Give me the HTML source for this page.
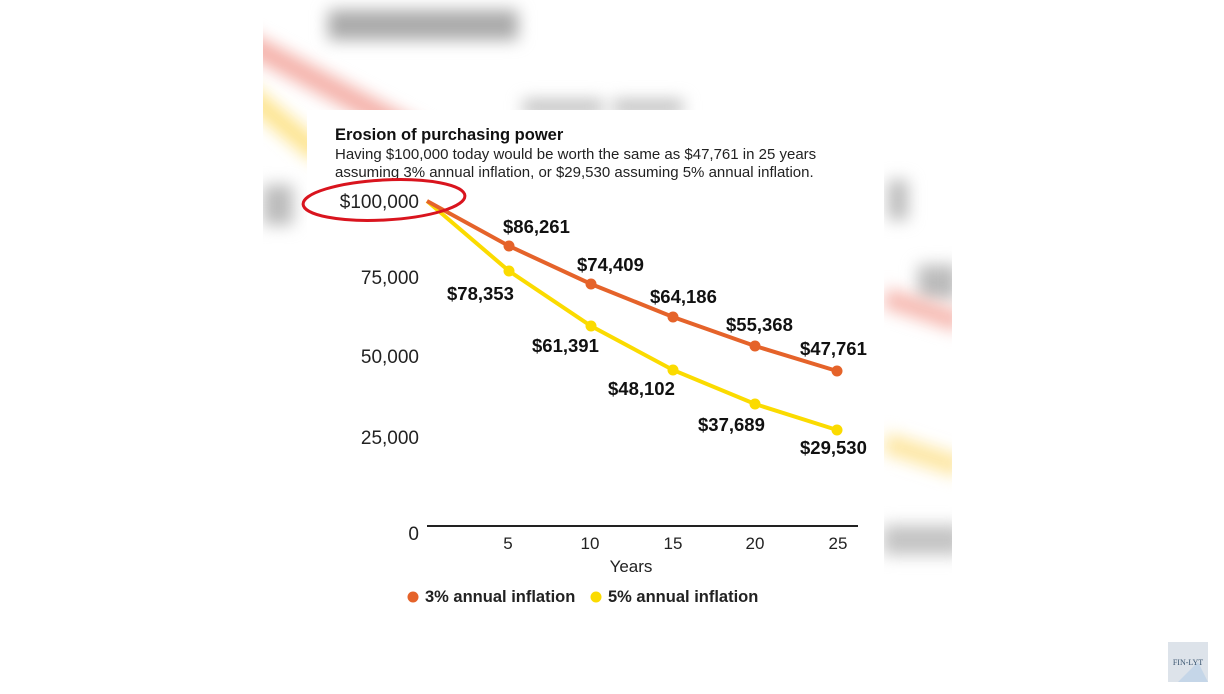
<!DOCTYPE html>
<html><head><meta charset="utf-8"><style>
body{margin:0;width:1224px;height:694px;background:#fff;overflow:hidden;position:relative;font-family:"Liberation Sans",sans-serif}
.bg{position:absolute;left:263px;top:0;width:689px;height:585px;overflow:hidden;background:#fff}
.b{position:absolute;filter:blur(8px)}
.card{position:absolute;left:307px;top:110px;width:577px;height:475px;background:#fff}
</style></head><body>
<div class="bg">
 <div class="b" style="left:65px;top:10px;width:190px;height:30px;background:#aaa"></div>
 <div class="b" style="left:260px;top:100px;width:80px;height:14px;background:#bbb"></div>
 <div class="b" style="left:350px;top:100px;width:70px;height:14px;background:#bbb"></div>
 <div class="b" style="left:-20px;top:30px;width:260px;height:22px;background:#f4b0a8;transform:rotate(28deg);transform-origin:left"></div>
 <div class="b" style="left:-20px;top:80px;width:100px;height:20px;background:#fde38a;transform:rotate(40deg);transform-origin:left"></div>
 <div class="b" style="left:0px;top:185px;width:30px;height:40px;background:#bbb"></div>
 <div class="b" style="left:625px;top:180px;width:20px;height:40px;background:#bbb"></div>
 <div class="b" style="left:655px;top:265px;width:40px;height:35px;background:#bbb"></div>
 <div class="b" style="left:620px;top:300px;width:80px;height:20px;background:#f6b8b0;transform:rotate(18deg)"></div>
 <div class="b" style="left:620px;top:445px;width:80px;height:20px;background:#fde6a0;transform:rotate(18deg)"></div>
 <div class="b" style="left:620px;top:525px;width:80px;height:30px;background:#c4c4c4"></div>
</div>
<div class="card"></div>
<svg width="1224" height="694" style="position:absolute;left:0;top:0" font-family="Liberation Sans, sans-serif">
 <text x="335" y="140" font-size="16.5" font-weight="bold" fill="#111">Erosion of purchasing power</text>
 <text x="335" y="159" font-size="15" fill="#222">Having $100,000 today would be worth the same as $47,761 in 25 years</text>
 <text x="335" y="177" font-size="15" fill="#222">assuming 3% annual inflation, or $29,530 assuming 5% annual inflation.</text>
 <g font-size="19" fill="#222" text-anchor="end">
  <text x="419" y="208">$100,000</text>
  <text x="419" y="284">75,000</text>
  <text x="419" y="363">50,000</text>
  <text x="419" y="444">25,000</text>
  <text x="419" y="540">0</text>
 </g>
 <line x1="427" y1="526" x2="858" y2="526" stroke="#222" stroke-width="2"/>
 <g font-size="17" fill="#222" text-anchor="middle">
  <text x="508" y="549">5</text><text x="590" y="549">10</text><text x="673" y="549">15</text><text x="755" y="549">20</text><text x="838" y="549">25</text>
  <text x="631" y="572">Years</text>
 </g>
 <polyline fill="none" stroke="#fbdb00" stroke-width="4" points="427,201 509,271 591,326 673,370 755,404 837,430"/>
 <polyline fill="none" stroke="#e5632a" stroke-width="4" points="427,201 509,246 591,284 673,317 755,346 837,371"/>
 <g fill="#e5632a"><circle cx="509" cy="246" r="5.5"/><circle cx="591" cy="284" r="5.5"/><circle cx="673" cy="317" r="5.5"/><circle cx="755" cy="346" r="5.5"/><circle cx="837" cy="371" r="5.5"/></g>
 <g fill="#fbdb00"><circle cx="509" cy="271" r="5.5"/><circle cx="591" cy="326" r="5.5"/><circle cx="673" cy="370" r="5.5"/><circle cx="755" cy="404" r="5.5"/><circle cx="837" cy="430" r="5.5"/></g>
 <g font-size="18.5" font-weight="bold" fill="#111">
  <text x="503" y="233">$86,261</text><text x="577" y="271">$74,409</text><text x="650" y="303">$64,186</text><text x="726" y="331">$55,368</text><text x="800" y="355">$47,761</text>
  <text x="447" y="300">$78,353</text><text x="532" y="352">$61,391</text><text x="608" y="395">$48,102</text><text x="698" y="431">$37,689</text><text x="800" y="454">$29,530</text>
 </g>
 <ellipse cx="384" cy="200" rx="81" ry="20" fill="none" stroke="#d9141e" stroke-width="3" transform="rotate(-3 384 200)"/>
 <circle cx="413" cy="597" r="5.5" fill="#e5632a"/>
 <text x="425" y="602" font-size="16.5" font-weight="bold" fill="#222">3% annual inflation</text>
 <circle cx="596" cy="597" r="5.5" fill="#fbdb00"/>
 <text x="608" y="602" font-size="16.5" font-weight="bold" fill="#222">5% annual inflation</text>
 <rect x="1168" y="642" width="40" height="40" fill="#dde3ea"/>
 <polygon points="1178,682 1198,662 1208,682" fill="#c5d6e8"/>
 <text x="1188" y="665" font-size="8" font-family="Liberation Serif,serif" fill="#3a5570" text-anchor="middle">FIN-LYT</text>
</svg>
</body></html>
